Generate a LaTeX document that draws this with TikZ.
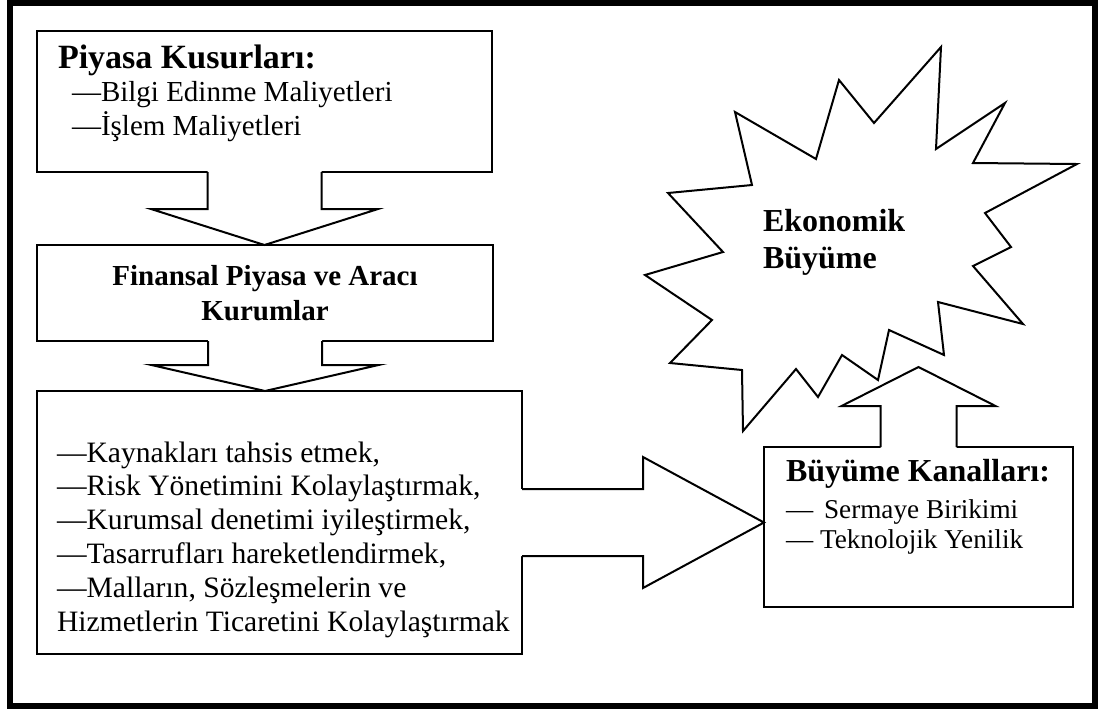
\documentclass[tikz,border=0pt]{standalone}
\usepackage{fontspec}
\setmainfont{Liberation Serif}
\usetikzlibrary{calc}
\begin{document}
\begin{tikzpicture}[x=0.5pt,y=-0.5pt,
  boxshape/.style={draw,line width=1pt,fill=white,inner sep=0pt,outer sep=0pt},
  txt/.style={inner sep=0pt,outer sep=0pt,anchor=base west,font=\fontsize{14.5}{16.75}\selectfont},
  arrowline/.style={line width=1pt,line join=miter},
  arrowfill/.style={fill=white},
  starline/.style={line width=1pt,line join=miter},
  frameline/.style={line width=3pt}]
\useasboundingbox (0,0) rectangle (1098,709);
\draw[frameline] (10,3) rectangle (1095,706);

% star
\draw[starline] (941,47) -- (936,149) -- (1005,103) -- (973,163) -- (1077,164) -- (985,213)
  -- (1011,247) -- (973,266) -- (1023,324) -- (938,302) -- (944,355) -- (889,330)
  -- (878,380) -- (842,355) -- (818,397) -- (796,369) -- (743,431) -- (742,370)
  -- (670,363) -- (712,320) -- (645,275) -- (723,252) -- (668,193) -- (752,185)
  -- (735,112) -- (816,159) -- (839,80) -- (874,123) -- cycle;

% boxes
\node[boxshape,minimum width=227.5pt,minimum height=70.5pt] (b1) at (264.5,101.5) {};
\node[boxshape,minimum width=228pt,minimum height=48pt] (b2) at (265,293) {};
\node[boxshape,minimum width=242.5pt,minimum height=131.5pt] (b3) at (279.5,522.5) {};
\node[boxshape,minimum width=154.5pt,minimum height=80pt] (b4) at (918.5,527) {};

% down arrow 1
\fill[arrowfill] ($(b1.south)+(-57,-1.5)$) -- ($(b1.south)+(-57,37)$) -- ($(b1.south)+(-113.5,37)$)
  -- (b1.south |- b2.north) -- ($(b1.south)+(113.5,37)$) -- ($(b1.south)+(57,37)$) -- ($(b1.south)+(57,-1.5)$) -- cycle;
\draw[arrowline] ($(b1.south)+(-57,0)$) -- ($(b1.south)+(-57,37)$) -- ($(b1.south)+(-113.5,37)$)
  -- (b1.south |- b2.north) -- ($(b1.south)+(113.5,37)$) -- ($(b1.south)+(57,37)$) -- ($(b1.south)+(57,0)$);

% down arrow 2
\fill[arrowfill] ($(b2.south)+(-57,-1.5)$) -- ($(b2.south)+(-57,24)$) -- ($(b2.south)+(-113.5,24)$)
  -- (b2.south |- b3.north) -- ($(b2.south)+(113.5,24)$) -- ($(b2.south)+(57,24)$) -- ($(b2.south)+(57,-1.5)$) -- cycle;
\draw[arrowline] ($(b2.south)+(-57,0)$) -- ($(b2.south)+(-57,24)$) -- ($(b2.south)+(-113.5,24)$)
  -- (b2.south |- b3.north) -- ($(b2.south)+(113.5,24)$) -- ($(b2.south)+(57,24)$) -- ($(b2.south)+(57,0)$);

% right arrow
\fill[arrowfill] ($(b3.east)+(-1.5,-33.5)$) -- ($(b3.east)+(121,-33.5)$) -- ($(b3.east)+(121,-65.5)$)
  -- (b4.west |- b3.east) -- ($(b3.east)+(121,65.5)$) -- ($(b3.east)+(121,33.5)$) -- ($(b3.east)+(-1.5,33.5)$) -- cycle;
\draw[arrowline] ($(b3.east)+(0,-33.5)$) -- ($(b3.east)+(121,-33.5)$) -- ($(b3.east)+(121,-65.5)$)
  -- (b4.west |- b3.east) -- ($(b3.east)+(121,65.5)$) -- ($(b3.east)+(121,33.5)$) -- ($(b3.east)+(0,33.5)$);

% up arrow
\coordinate (uptip) at ($(b4.north)+(0,-80)$);
\fill[arrowfill] ($(b4.north)+(-38,1.5)$) -- ($(b4.north)+(-38,-41)$) -- ($(b4.north)+(-77,-41)$)
  -- (uptip) -- ($(b4.north)+(77,-41)$) -- ($(b4.north)+(38,-41)$) -- ($(b4.north)+(38,1.5)$) -- cycle;
\draw[arrowline] ($(b4.north)+(-38,0)$) -- ($(b4.north)+(-38,-41)$) -- ($(b4.north)+(-77,-41)$)
  -- (uptip) -- ($(b4.north)+(77,-41)$) -- ($(b4.north)+(38,-41)$) -- ($(b4.north)+(38,0)$);

% texts
\node[txt] (t1) at (58,68) {\begin{tabular}[t]{@{}l@{}}{\fontsize{17}{17}\selectfont\bfseries Piyasa Kusurları:}\\
  \hspace*{7pt}—Bilgi Edinme Maliyetleri\\
  \hspace*{7pt}—İşlem Maliyetleri\end{tabular}};
\node[txt,anchor=base,font=\fontsize{14.5}{17.5}\selectfont\bfseries] (t2) at (265,285)
  {\begin{tabular}[t]{@{}c@{}}Finansal Piyasa ve Aracı\\Kurumlar\end{tabular}};
\node[txt,font=\fontsize{14.8}{16.9}\selectfont] (t3) at (57,462) {\begin{tabular}[t]{@{}l@{}}—Kaynakları tahsis etmek,\\
  —Risk Yönetimini Kolaylaştırmak,\\
  —Kurumsal denetimi iyileştirmek,\\
  —Tasarrufları hareketlendirmek,\\
  —Malların, Sözleşmelerin ve\\
  Hizmetlerin Ticaretini Kolaylaştırmak\end{tabular}};
\node[txt,font=\fontsize{13.6}{15.2}\selectfont] (t4) at (786,481) {\begin{tabular}[t]{@{}l@{}}{\fontsize{16}{16}\selectfont\bfseries Büyüme Kanalları:}\\[3.5pt]
  —\hspace{0.4em}Sermaye Birikimi\\
  — Teknolojik Yenilik\end{tabular}};
\node[txt,font=\fontsize{16}{18.5}\selectfont\bfseries] (eb) at (763,231)
  {\begin{tabular}[t]{@{}l@{}}Ekonomik\\Büyüme\end{tabular}};
\end{tikzpicture}
\end{document}
